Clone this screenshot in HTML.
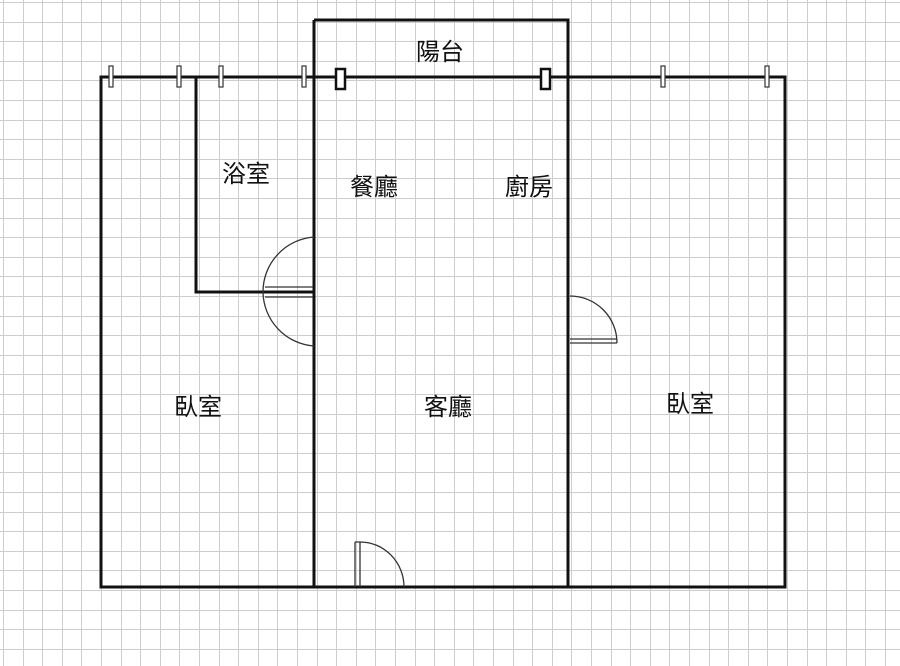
<!DOCTYPE html>
<html><head><meta charset="utf-8"><style>
html,body{margin:0;padding:0;background:#fff}
svg{display:block}
text{font-family:"Liberation Sans","Noto Sans CJK TC",sans-serif;font-size:24px;fill:#111}
</style></head><body>
<svg width="900" height="666" viewBox="0 0 900 666" xmlns="http://www.w3.org/2000/svg">
<rect width="900" height="666" fill="#fff"/>
<path stroke="#cdcdcd" stroke-width="1" fill="none" d="M3.5 0V666M23.5 0V666M42.5 0V666M62.5 0V666M81.5 0V666M101.5 0V666M121.5 0V666M140.5 0V666M160.5 0V666M179.5 0V666M199.5 0V666M219.5 0V666M238.5 0V666M258.5 0V666M277.5 0V666M297.5 0V666M317.5 0V666M336.5 0V666M356.5 0V666M375.5 0V666M395.5 0V666M415.5 0V666M434.5 0V666M454.5 0V666M473.5 0V666M493.5 0V666M513.5 0V666M532.5 0V666M552.5 0V666M571.5 0V666M591.5 0V666M611.5 0V666M630.5 0V666M650.5 0V666M669.5 0V666M689.5 0V666M709.5 0V666M728.5 0V666M748.5 0V666M767.5 0V666M787.5 0V666M807.5 0V666M826.5 0V666M846.5 0V666M865.5 0V666M885.5 0V666
M0 2.5H900M0 22.5H900M0 41.5H900M0 61.5H900M0 80.5H900M0 100.5H900M0 120.5H900M0 139.5H900M0 159.5H900M0 178.5H900M0 198.5H900M0 218.5H900M0 237.5H900M0 257.5H900M0 276.5H900M0 296.5H900M0 316.5H900M0 335.5H900M0 355.5H900M0 374.5H900M0 394.5H900M0 414.5H900M0 433.5H900M0 453.5H900M0 472.5H900M0 492.5H900M0 512.5H900M0 531.5H900M0 551.5H900M0 570.5H900M0 590.5H900M0 610.5H900M0 629.5H900M0 649.5H900"/>
<g stroke="#111" stroke-width="3" fill="none">
<rect x="101" y="77" width="684" height="510"/>
<path d="M314 20H568V77M314 20V587M568 77V587M196 77V292H314"/>
</g>
<g stroke="#333" stroke-width="1.3" fill="none">
<path d="M314 237A55 55 0 0 0 263 292"/>
<path d="M314 346A55 55 0 0 1 263 292"/>
<path d="M265 287H313M265 297H313"/>
<path d="M570 296A47 47 0 0 1 617 343"/>
<path d="M570 343H617M570 339H617"/>
<path d="M355 542V587M360 542V587M355 542H360A44 45 0 0 1 404 587"/>
</g>
<g stroke="#333" stroke-width="1.2" fill="#fff">
<rect x="109" y="66" width="4" height="21"/>
<rect x="177" y="66" width="4" height="21"/>
<rect x="219" y="66" width="4" height="21"/>
<rect x="302" y="66" width="4" height="21"/>
<rect x="661" y="66" width="4" height="21"/>
<rect x="765" y="66" width="4" height="21"/>
</g>
<g stroke="#111" stroke-width="2.5" fill="#fff">
<rect x="336" y="69" width="9" height="20"/>
<rect x="541" y="69" width="9" height="20"/>
</g>
<text x="416" y="60">陽台</text>
<text x="222" y="182">浴室</text>
<text x="350" y="195">餐廳</text>
<text x="505" y="195">廚房</text>
<text x="174" y="415">臥室</text>
<text x="424" y="415">客廳</text>
<text x="666" y="412">臥室</text>
</svg>
</body></html>
